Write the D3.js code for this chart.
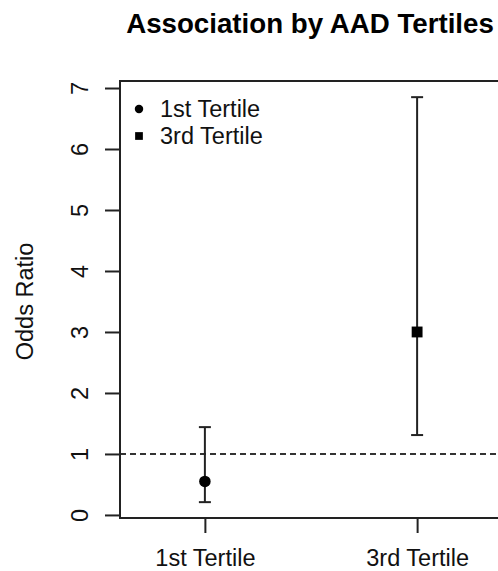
<!DOCTYPE html>
<html>
<head>
<meta charset="utf-8">
<script src="https://cdn.jsdelivr.net/npm/d3@7"></script>
<style>
  body { margin: 0; background: #fff; }
  svg { display: block; font-family: "Liberation Sans", Arial, sans-serif; }
</style>
</head>
<body>
<svg id="chart" width="498" height="571"></svg>
<script>
// Chart data
const categories = ["1st Tertile", "3rd Tertile"];
const oddsRatio = [0.55, 3.0];
const lowerCI = [0.21, 1.31];
const upperCI = [1.44, 6.85];
const yTicks = [0, 1, 2, 3, 4, 5, 6, 7];
const shapes = ["circle", "square"];

const svg = d3.select("#chart");
const ink = "#222";
const fs = "23.5px";

// plot region (right edge falls just outside the window, like the reference)
const x = d3.scaleLinear().domain([0.6, 2.4]).range([120, 502]);
const y = d3.scaleLinear().domain([-0.05, 7.115]).range([518, 81]);

// title
svg.append("text")
  .attr("x", 310).attr("y", 33)
  .attr("text-anchor", "middle")
  .style("font-size", "27.7px")
  .style("font-weight", "bold")
  .text("Association by AAD Tertiles");

// reference line at OR = 1
svg.append("line")
  .attr("x1", x(0.6)).attr("x2", x(2.4))
  .attr("y1", y(1)).attr("y2", y(1))
  .attr("stroke", "#333").attr("stroke-width", 2)
  .attr("stroke-dasharray", "6,4");

// box
svg.append("rect")
  .attr("x", x(0.6)).attr("y", y(7.115))
  .attr("width", x(2.4) - x(0.6)).attr("height", y(-0.05) - y(7.115))
  .attr("fill", "none").attr("stroke", ink).attr("stroke-width", 2);

// y axis
const yAxis = svg.append("g").attr("transform", `translate(${x(0.6)},0)`)
  .call(d3.axisLeft(y).tickValues(yTicks).tickSize(15).tickSizeOuter(0).tickFormat(d3.format("d")));
yAxis.select(".domain").remove();
yAxis.selectAll(".tick line").attr("stroke", ink).attr("stroke-width", 2);
yAxis.selectAll(".tick text")
  .attr("x", null).attr("dy", null)
  .attr("transform", "translate(-32,0) rotate(-90)")
  .attr("text-anchor", "middle")
  .attr("fill", "#111")
  .style("font-size", fs)
  .style("font-family", "Liberation Sans, Arial, sans-serif");

// x axis
const xAxis = svg.append("g").attr("transform", `translate(0,${y(-0.05)})`)
  .call(d3.axisBottom(x).tickValues([1, 2]).tickSize(15).tickSizeOuter(0)
    .tickFormat(d => categories[d - 1]));
xAxis.select(".domain").remove();
xAxis.selectAll(".tick line").attr("stroke", ink).attr("stroke-width", 2);
xAxis.selectAll(".tick text")
  .attr("y", 48).attr("dy", null)
  .attr("fill", "#111")
  .style("font-size", fs)
  .style("font-family", "Liberation Sans, Arial, sans-serif");

// y label
svg.append("text")
  .attr("transform", `translate(33,${y(3.5)}) rotate(-90)`)
  .attr("text-anchor", "middle")
  .style("font-size", fs)
  .attr("fill", "#111")
  .text("Odds Ratio");

// error bars
const rows = categories.map((c, i) => ({ pos: i + 1, or: oddsRatio[i], lo: lowerCI[i], hi: upperCI[i], shape: shapes[i] }));
const g = svg.append("g");
g.selectAll(".ci").data(rows).enter().append("line")
  .attr("x1", d => x(d.pos)).attr("x2", d => x(d.pos))
  .attr("y1", d => y(d.lo)).attr("y2", d => y(d.hi))
  .attr("stroke", ink).attr("stroke-width", 2);
["lo", "hi"].forEach(k => {
  g.selectAll(".cap-" + k).data(rows).enter().append("line")
    .attr("x1", d => x(d.pos) - 6).attr("x2", d => x(d.pos) + 6)
    .attr("y1", d => y(d[k])).attr("y2", d => y(d[k]))
    .attr("stroke", ink).attr("stroke-width", 2);
});

// points
const sym = { circle: d3.symbolCircle, square: d3.symbolSquare };
g.selectAll(".pt").data(rows).enter().append("path")
  .attr("transform", d => `translate(${x(d.pos)},${y(d.or)})`)
  .attr("d", d => d3.symbol().type(sym[d.shape]).size(d.shape === "circle" ? 104 : 118)())
  .attr("fill", "#000");

// legend
const legend = svg.append("g");
categories.forEach((c, i) => {
  const ly = 109 + i * 27;
  legend.append("path")
    .attr("transform", `translate(139,${ly})`)
    .attr("d", d3.symbol().type(sym[shapes[i]]).size(shapes[i] === "circle" ? 56 : 60)())
    .attr("fill", "#000");
  legend.append("text")
    .attr("x", 160).attr("y", ly + 8)
    .style("font-size", fs)
    .attr("fill", "#111")
    .text(c);
});
</script>
</body>
</html>
